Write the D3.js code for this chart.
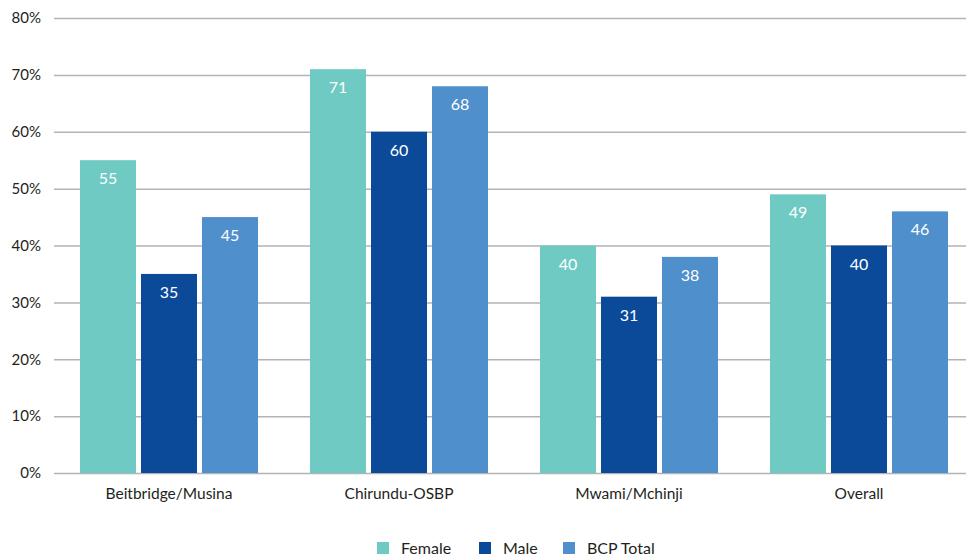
<!DOCTYPE html>
<html>
<head>
<meta charset="utf-8">
<script src="https://cdn.jsdelivr.net/npm/d3@7"></script>
<style>
  html, body { margin: 0; padding: 0; background: #fff; }
  svg { display: block; font-family: Lato, "Open Sans", sans-serif; }
</style>
</head>
<body>
<svg id="chart" width="966" height="560"></svg>
<script>
// Border crossing points and share (%) by group
const categories = ["Beitbridge/Musina", "Chirundu-OSBP", "Mwami/Mchinji", "Overall"];
const seriesNames = ["Female", "Male", "BCP Total"];
const female = [55, 71, 40, 49];
const male = [35, 60, 31, 40];
const bcpTotal = [45, 68, 38, 46];
const yTicks = [0, 10, 20, 30, 40, 50, 60, 70, 80];
const colors = ["#6fcac4", "#0a4a99", "#4f8fcc"];

const values = [female, male, bcpTotal];
const svg = d3.select("#chart");

const y = d3.scaleLinear().domain([0, 80]).range([473, 18]);
const x0 = d3.scaleBand().domain(categories).range([54, 974])
  .paddingInner(0.226).paddingOuter(0.113);
const x1 = d3.scaleBand().domain(seriesNames).range([0, x0.bandwidth()])
  .paddingInner(0.082).paddingOuter(0);

// Gridlines and y labels
const yAxis = d3.axisLeft(y).tickValues(yTicks).tickFormat(d => d + "%")
  .tickSize(-912).tickPadding(13);
const gy = svg.append("g").attr("transform", "translate(54,0)").call(yAxis);
gy.select(".domain").remove();
gy.selectAll(".tick line").attr("stroke", "#b3b3b3").attr("stroke-width", 1.5);
gy.selectAll(".tick text").attr("fill", "#231f20").attr("font-size", 15)
  .attr("font-family", "Lato, sans-serif");

// Bars
const groups = svg.append("g").selectAll("g")
  .data(categories).join("g")
  .attr("transform", d => `translate(${x0(d)},0)`);

groups.each(function (cat, ci) {
  const g = d3.select(this);
  const rows = seriesNames.map((s, si) => ({ s, si, v: values[si][ci] }));
  g.selectAll("rect").data(rows).join("rect")
    .attr("x", d => x1(d.s))
    .attr("y", d => y(d.v))
    .attr("width", x1.bandwidth())
    .attr("height", d => y(0) - y(d.v))
    .attr("fill", d => colors[d.si]);
  g.selectAll("text").data(rows).join("text")
    .attr("x", d => x1(d.s) + x1.bandwidth() / 2)
    .attr("y", d => y(d.v) + 24)
    .attr("text-anchor", "middle")
    .attr("fill", "#fff")
    .attr("font-size", 16)
    .text(d => d.v);
});

// Category labels
const xAxis = d3.axisBottom(x0).tickSize(0).tickPadding(15);
const gx = svg.append("g").attr("transform", `translate(0,${y(0)})`).call(xAxis);
gx.select(".domain").remove();
gx.selectAll(".tick text").attr("fill", "#231f20").attr("font-size", 15.5)
  .attr("font-family", "Lato, sans-serif");

// Legend
const legendX = [377, 479, 563];
const legend = svg.append("g").selectAll("g").data(seriesNames).join("g")
  .attr("transform", (d, i) => `translate(${legendX[i]},542)`);
legend.append("rect").attr("width", 12).attr("height", 12)
  .attr("fill", (d, i) => colors[i]);
legend.append("text").attr("x", 24).attr("y", 12)
  .attr("fill", "#231f20").attr("font-size", 16).text(d => d);
</script>
</body>
</html>
